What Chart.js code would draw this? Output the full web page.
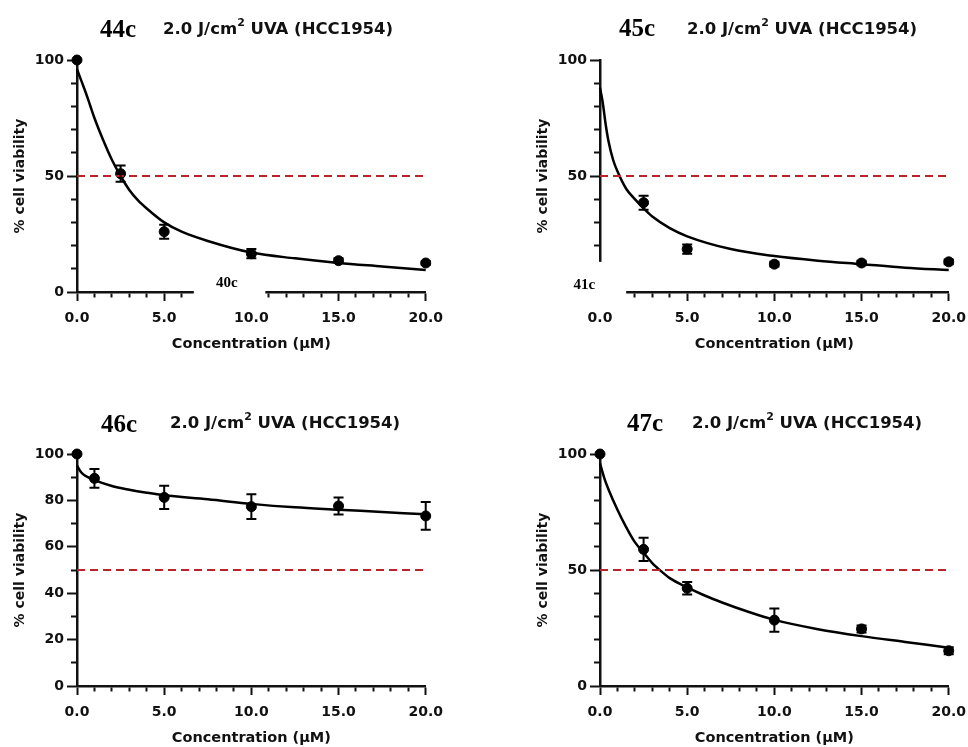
<!DOCTYPE html>
<html>
<head>
<meta charset="utf-8">
<script src="https://cdn.jsdelivr.net/npm/chart.js@4.4.1/dist/chart.umd.min.js"></script>
<style>
  body { margin: 0; background: #fff; width: 968px; height: 747px; position: relative; overflow: hidden; }
  .panel { position: absolute; width: 452px; height: 375px; }
  .tag { position: absolute; font: bold 25px "Liberation Serif", serif; color: #000; line-height: 1; white-space: nowrap; }
  .sub { position: absolute; font: bold 16.5px "DejaVu Sans", sans-serif; color: #111; line-height: 1; white-space: nowrap; }
  .sub sup { font-size: 11px; position: relative; top: -1px; }
</style>
</head>
<body>

<div class="panel" style="left:0;top:0"><canvas id="c44" width="452" height="375"></canvas></div>
<div class="panel" style="left:523px;top:0"><canvas id="c45" width="452" height="375"></canvas></div>
<div class="panel" style="left:0;top:394px"><canvas id="c46" width="452" height="375"></canvas></div>
<div class="panel" style="left:523px;top:394px"><canvas id="c47" width="452" height="375"></canvas></div>

<div class="tag" style="left:100px;top:16px">44c</div>
<div class="sub" style="left:163px;top:18px">2.0 J/cm<sup>2</sup> UVA (HCC1954)</div>
<div class="tag" style="left:619px;top:15px">45c</div>
<div class="sub" style="left:687px;top:18px">2.0 J/cm<sup>2</sup> UVA (HCC1954)</div>
<div class="tag" style="left:101px;top:411px">46c</div>
<div class="sub" style="left:170px;top:412px">2.0 J/cm<sup>2</sup> UVA (HCC1954)</div>
<div class="tag" style="left:627px;top:410px">47c</div>
<div class="sub" style="left:692px;top:412px">2.0 J/cm<sup>2</sup> UVA (HCC1954)</div>

<script>
// x labels shown on every panel
const xLabels = [0, 5, 10, 15, 20];
const halfX = [0, 20];
const halfY = [50, 50];

// 44c
const conc44 = [0, 2.5, 5, 10, 15, 20];
const via44 = [100, 51, 26, 16.5, 13.5, 12.5];
const err44 = [0, 3.5, 3, 2, 1, 0.8];
const fitX44 = [0, 0.25, 0.5, 0.75, 1, 1.5, 2, 2.5, 3, 3.5, 4, 5, 6, 7.5, 10, 12.5, 15, 17.5, 20];
const fitY44 = [96, 91, 86, 80.5, 75, 65.5, 57, 50, 44, 39.5, 36, 30, 26, 22, 17, 14.5, 12.5, 11, 9.5];
const yLabels44 = [0, 50, 100];

// 45c
const conc45 = [2.5, 5, 10, 15, 20];
const via45 = [38.5, 18.5, 12, 12.5, 13];
const err45 = [3, 2, 1, 1, 1];
const fitX45 = [0, 0.15, 0.33, 0.5, 0.75, 1, 1.5, 2, 2.5, 3, 4, 5, 7.5, 10, 12.5, 15, 17.5, 20];
const fitY45 = [88, 82, 72, 64.5, 57, 52, 44.5, 40, 36, 32.5, 27.5, 24, 18.5, 15.5, 13.5, 12, 10.5, 9.5];
const yLabels45 = [0, 50, 100];

// 46c
const conc46 = [0, 1, 5, 10, 15, 20];
const via46 = [100, 89.5, 81.3, 77.3, 77.6, 73.3];
const err46 = [0, 4, 5, 5.3, 3.7, 6];
const fitX46 = [0, 0.25, 0.5, 1, 2, 3, 4, 5, 7.5, 10, 12.5, 15, 17.5, 20];
const fitY46 = [95, 92, 90.5, 88.7, 86.2, 84.6, 83.3, 82.2, 80.5, 78.5, 77, 76, 75, 74];
const yLabels46 = [0, 20, 40, 60, 80, 100];

// 47c
const conc47 = [0, 2.5, 5, 10, 15, 20];
const via47 = [100, 58.9, 42.1, 28.4, 24.6, 15.2];
const err47 = [0, 5, 2.7, 5, 1.5, 1.5];
const fitX47 = [0, 0.25, 0.5, 1, 1.5, 2, 2.5, 3, 3.5, 4, 5, 6, 7, 8.5, 10, 12.5, 15, 17.5, 20];
const fitY47 = [96, 89.5, 84.5, 76, 68.5, 62, 57.5, 53, 49.5, 46.5, 42.5, 39, 36, 32, 28.5, 24.5, 21.5, 19, 16.5];
const yLabels47 = [0, 50, 100];

const pairs = (xs, ys) => xs.map((x, i) => ({ x: x, y: ys[i] }));
const FONT = 'DejaVu Sans';

const errorBars = {
  id: 'errorBars',
  afterDatasetsDraw(chart) {
    const ctx = chart.ctx;
    const yScale = chart.scales.y;
    chart.data.datasets.forEach((ds, i) => {
      if (!ds.errors) return;
      const meta = chart.getDatasetMeta(i);
      ctx.save();
      ctx.strokeStyle = '#000';
      ctx.lineWidth = 2;
      meta.data.forEach((pt, j) => {
        const e = ds.errors[j];
        if (!e) return;
        const v = ds.data[j].y;
        const top = yScale.getPixelForValue(v + e);
        const bot = yScale.getPixelForValue(v - e);
        ctx.beginPath();
        ctx.moveTo(pt.x, top); ctx.lineTo(pt.x, bot);
        ctx.moveTo(pt.x - 5, top); ctx.lineTo(pt.x + 5, top);
        ctx.moveTo(pt.x - 5, bot); ctx.lineTo(pt.x + 5, bot);
        ctx.stroke();
      });
      ctx.restore();
    });
  }
};

// pasted-over compound labels that hide part of the axes
const overlay = {
  id: 'overlay',
  afterDraw(chart, args, opts) {
    if (!opts || !opts.text) return;
    const { x, y } = chart.scales;
    const ctx = chart.ctx;
    const l = x.getPixelForValue(opts.box[0]);
    const r = x.getPixelForValue(opts.box[1]);
    const b = y.getPixelForValue(opts.box[2]);
    const t = y.getPixelForValue(opts.box[3]);
    ctx.save();
    ctx.fillStyle = '#fff';
    ctx.fillRect(l, t, r - l, b - t);
    ctx.fillStyle = '#000';
    ctx.font = 'bold 15px "Liberation Serif"';
    ctx.textAlign = 'center';
    ctx.textBaseline = 'middle';
    ctx.fillText(opts.text, x.getPixelForValue(opts.at[0]), y.getPixelForValue(opts.at[1]));
    ctx.restore();
  }
};

function makePanel(id, conc, via, err, fitX, fitY, yLabels, mask) {
  return new Chart(document.getElementById(id), {
    type: 'scatter',
    data: {
      datasets: [
        { data: pairs(halfX, halfY), showLine: true, borderColor: '#b8242a', borderWidth: 2,
          borderDash: [8, 5], pointRadius: 0, clip: false },
        { data: pairs(fitX, fitY), showLine: true, borderColor: '#000', borderWidth: 2.5,
          pointRadius: 0, cubicInterpolationMode: 'monotone', clip: false },
        { data: pairs(conc, via), errors: err, pointRadius: 5, backgroundColor: '#000',
          borderColor: '#000', clip: false }
      ]
    },
    options: {
      responsive: false,
      animation: false,
      layout: { padding: { left: 0, top: 60, right: 0, bottom: 0 } },
      plugins: {
        legend: { display: false },
        tooltip: { enabled: false },
        overlay: mask || {}
      },
      scales: {
        x: {
          type: 'linear', min: 0, max: 20,
          afterFit: (s) => { s.height = 83; },
          ticks: {
            stepSize: 1, autoSkip: false, maxRotation: 0, padding: 9, color: '#111',
            font: { family: FONT, weight: 'bold', size: 14 },
            callback: (v) => xLabels.includes(v) ? v.toFixed(1) : ''
          },
          grid: {
            drawOnChartArea: false, tickLength: 9, tickWidth: 2, tickColor: '#111',
            tickBorderDash: (c) => (c.tick && xLabels.includes(c.tick.value)) ? [] : [4, 100]
          },
          border: { color: '#111', width: 2.5 },
          title: {
            display: true, text: 'Concentration (µM)', color: '#111',
            font: { family: FONT, weight: 'bold', size: 14.5 },
            padding: { top: 0, bottom: 22 }
          }
        },
        y: {
          min: 0, max: 100,
          afterFit: (s) => { s.width = 77; },
          ticks: {
            stepSize: 10, autoSkip: false, padding: 3, color: '#111',
            font: { family: FONT, weight: 'bold', size: 14 },
            callback: (v) => yLabels.includes(v) ? String(v) : ''
          },
          grid: {
            drawOnChartArea: false, tickLength: 10, tickWidth: 2, tickColor: '#111',
            tickBorderDash: (c) => (c.tick && yLabels.includes(c.tick.value)) ? [] : [0, 4, 5, 100]
          },
          border: { color: '#111', width: 2.5 },
          title: {
            display: true, text: '% cell viability', color: '#111',
            font: { family: FONT, weight: 'bold', size: 14 },
            padding: { top: 12, bottom: 0 }
          }
        }
      }
    },
    plugins: [errorBars, overlay]
  });
}

makePanel('c44', conc44, via44, err44, fitX44, fitY44, yLabels44,
  { text: '40c', box: [6.7, 10.8, -5, 6.9], at: [8.6, 3.9] });
makePanel('c45', conc45, via45, err45, fitX45, fitY45, yLabels45,
  { text: '41c', box: [-4, 1.5, -5, 13], at: [-0.9, 3] });
makePanel('c46', conc46, via46, err46, fitX46, fitY46, yLabels46, null);
makePanel('c47', conc47, via47, err47, fitX47, fitY47, yLabels47, null);
</script>
</body>
</html>
